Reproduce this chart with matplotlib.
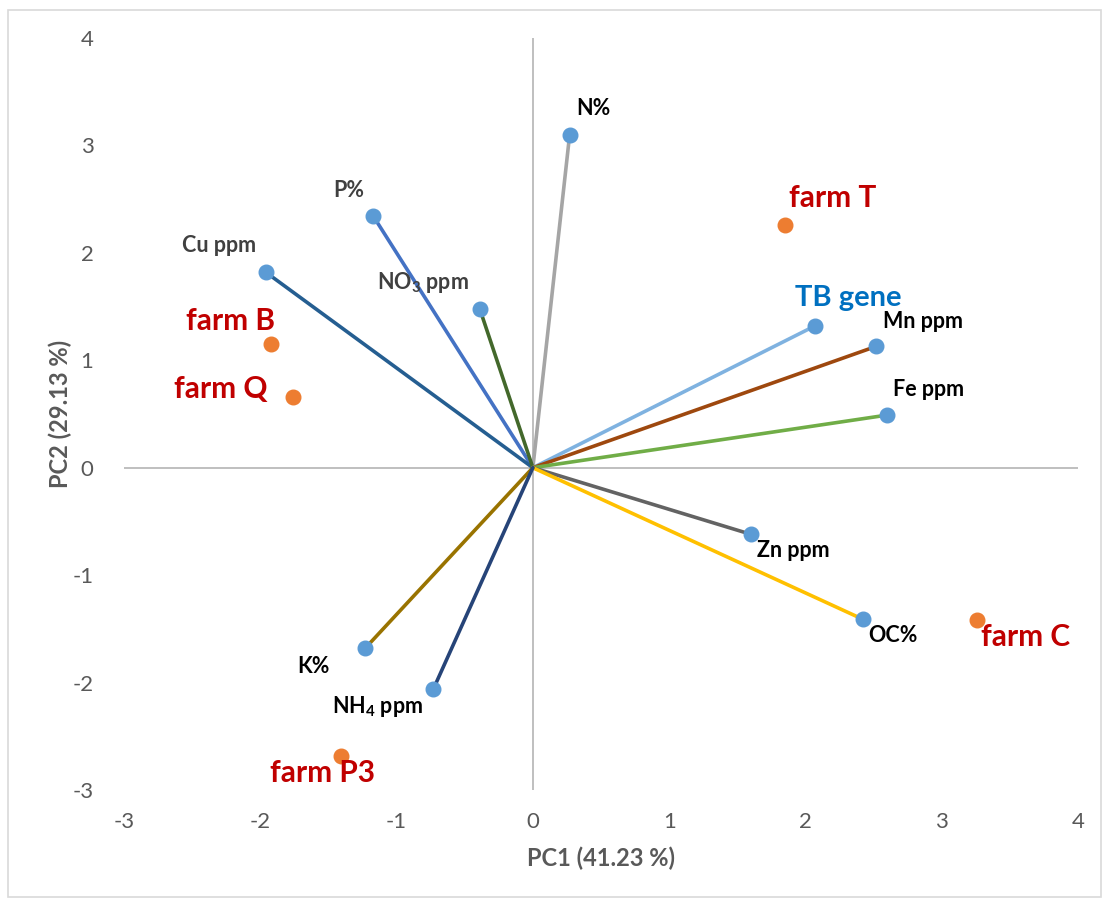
import matplotlib
matplotlib.use("Agg")
import matplotlib.pyplot as plt
from matplotlib.patches import Rectangle

plt.rcParams['font.family'] = ['Lato', 'DejaVu Sans']
plt.rcParams['mathtext.fontset'] = 'custom'
plt.rcParams['mathtext.rm'] = 'Lato:bold'
plt.rcParams['mathtext.it'] = 'Lato:bold'
plt.rcParams['mathtext.bf'] = 'Lato:bold'
plt.rcParams['mathtext.default'] = 'rm'

# Variable loadings (PC1, PC2)
var_names = ['N%', 'P%', 'Cu ppm', r'NO$_3$ ppm', 'TB gene', 'Mn ppm', 'Fe ppm',
             'Zn ppm', 'OC%', 'K%', r'NH$_4$ ppm']
var_pc1 = [0.27, -1.17, -1.96, -0.39, 2.07, 2.52, 2.60, 1.60, 2.42, -1.23, -0.73]
var_pc2 = [3.10, 2.34, 1.82, 1.48, 1.32, 1.13, 0.49, -0.62, -1.41, -1.68, -2.06]

# Farm scores
farm_names = ['farm T', 'farm B', 'farm Q', 'farm C', 'farm P3']
farm_pc1 = [1.85, -1.92, -1.76, 3.26, -1.41]
farm_pc2 = [2.26, 1.15, 0.66, -1.42, -2.68]

x_ticks = [-3, -2, -1, 0, 1, 2, 3, 4]
y_ticks = [-3, -2, -1, 0, 1, 2, 3, 4]

# Styles
line_colors = ['#A5A5A5', '#4472C4', '#255E91', '#43682B', '#7FB2E0', '#9E480E',
               '#70AD47', '#636363', '#FFC000', '#997300', '#264478']
var_label_colors = ['#000000', '#404040', '#404040', '#404040', '#0070C0', '#000000',
                    '#000000', '#000000', '#000000', '#000000', '#000000']
var_label_offsets = [(24, 26), (-25, 26), (-47, 27), (-57, 26), (33, 28), (47, 25),
                     (41, 26), (42, -16), (30, -16), (-52, -18), (-56, -17)]
farm_label_offsets = [(48, 27), (-41, 23), (-72, 8), (48, -17), (-18, -17)]

fig = plt.figure(figsize=(11.09, 9.05), dpi=100)
ax = fig.add_axes([124/1109, 1-790/905, (1078-124)/1109, (790-38)/905])

ax.set_xlim(-3, 4)
ax.set_ylim(-3, 4)
ax.axhline(0, color='#BFBFBF', lw=1.4, zorder=1)
ax.axvline(0, color='#BFBFBF', lw=1.4, zorder=1)

for name, x, y, c, lc, off in zip(var_names, var_pc1, var_pc2, line_colors,
                                   var_label_colors, var_label_offsets):
    ax.plot([0, x], [0, y], color=c, lw=2.6, solid_capstyle='round', zorder=2)
    ax.plot([x], [y], 'o', color='#5B9BD5', ms=10.5, mec='#5B9BD5', zorder=3)
    if name == 'TB gene':
        ax.annotate(name, (x, y), xytext=off, textcoords='offset pixels',
                    ha='center', va='center', fontsize=21, fontweight='bold',
                    color=lc, zorder=4)
    else:
        ax.annotate(name, (x, y), xytext=off, textcoords='offset pixels',
                    ha='center', va='center', fontsize=15.5, fontweight='bold',
                    color=lc, zorder=4)

ax.plot(farm_pc1, farm_pc2, 'o', color='#ED7D31', ms=10.5, mec='#ED7D31',
        linestyle='none', zorder=3)
for name, x, y, off in zip(farm_names, farm_pc1, farm_pc2, farm_label_offsets):
    ax.annotate(name, (x, y), xytext=off, textcoords='offset pixels',
                ha='center', va='center', fontsize=21.5, fontweight='bold',
                color='#C00000', zorder=4)

ax.set_xticks(x_ticks)
ax.set_yticks(y_ticks)
ax.set_xticklabels([str(v) for v in x_ticks])
ax.set_yticklabels([str(v) for v in y_ticks])
ax.tick_params(axis='both', length=0, labelsize=16, labelcolor='#595959')
ax.tick_params(axis='x', pad=16)
ax.tick_params(axis='y', pad=22)
for s in ax.spines.values():
    s.set_visible(False)

ax.set_xlabel('PC1 (41.23 %)', fontsize=17, fontweight='bold', color='#595959',
              labelpad=10)
ax.set_ylabel('PC2 (29.13 %)', fontsize=17, fontweight='bold', color='#595959',
              labelpad=0)

fig.patches.append(Rectangle((8/1109, 8/905), 1 - 16/1109, 1 - 18/905,
                             transform=fig.transFigure, fill=False,
                             edgecolor='#D9D9D9', lw=1.2))

fig.savefig('out.png', dpi=100)
